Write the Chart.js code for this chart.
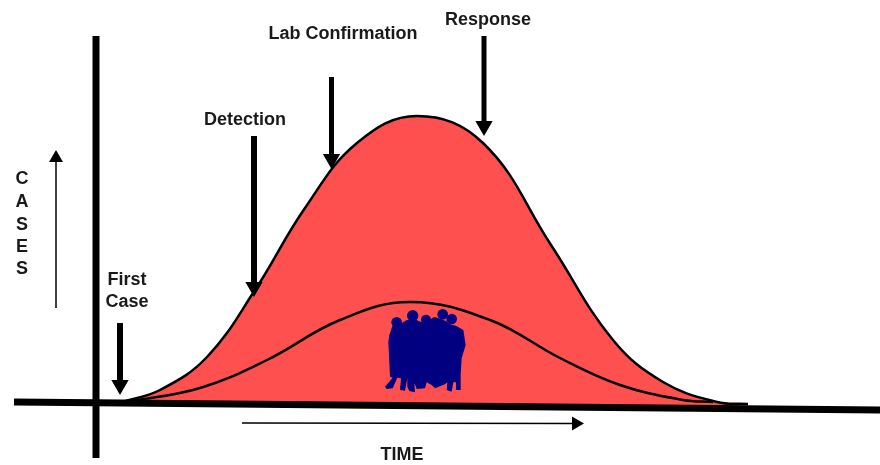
<!DOCTYPE html>
<html>
<head>
<meta charset="utf-8">
<title>Outbreak curve</title>
<script src="https://cdn.jsdelivr.net/npm/chart.js@4"></script>
<style>
  html, body { margin: 0; padding: 0; background: #fff; overflow: hidden; }
  canvas { display: block; }
</style>
</head>
<body>
<canvas id="chart" width="880" height="465"></canvas>
<script>
// curve values (x = time, y = cases above the left end of the baseline)
const totalTime = [122, 160, 207, 255, 305, 357, 417, 483, 551, 613, 663, 717, 748];
const totalCases = [3, 15, 48, 115, 197, 262, 289, 262, 160, 65, 23, 3, 1];
const reportedTime = [127, 200, 267, 340, 410, 490, 560, 620, 683, 713];
const reportedCases = [3, 17, 45, 85, 103, 85, 47, 20, 5, 3];
const baselineTime = [14, 880];
const baselineCases = [3, -5];
const axisTime = [96, 96];
const axisCases = [369, -53];

// arrows: tail, then the middle of the head
const firstCaseArrow = { time: [120, 120], cases: [82, 20] };
const detectionArrow = { time: [254, 254], cases: [269, 118] };
const labArrow = { time: [331.5, 331.5], cases: [328, 246] };
const responseArrow = { time: [484, 484], cases: [369, 279] };
const casesArrow = { time: [56, 56], cases: [97, 247] };
const timeArrow = { time: [242, 576], cases: [-18, -18.5] };

const labels = [
  { text: 'Lab Confirmation', x: 343, y: 39 },
  { text: 'Response', x: 488, y: 25 },
  { text: 'Detection', x: 245, y: 125 },
  { text: 'First', x: 127, y: 285 },
  { text: 'Case', x: 127, y: 307 },
  { text: 'C', x: 22, y: 184 },
  { text: 'A', x: 22, y: 207 },
  { text: 'S', x: 22, y: 230 },
  { text: 'E', x: 22, y: 252 },
  { text: 'S', x: 22, y: 274 },
  { text: 'TIME', x: 402, y: 460 }
];

// group of people, traced at 3x from (370, 295)
const peopleBody = [[70,85],[58,120],[55,140],[60,245],[68,248],[45,275],[50,282],[68,280],[82,248],[93,250],[90,285],[105,287],[112,250],[112,275],[118,288],[135,292],[133,265],[138,275],[140,282],[165,280],[170,262],[185,270],[195,280],[225,268],[232,262],[230,285],[245,290],[250,262],[258,262],[258,285],[272,285],[272,240],[275,190],[287,150],[280,105],[258,92],[240,88],[228,78],[205,70],[190,85],[170,80],[150,80],[140,75],[110,75],[95,85]];
const peopleHeads = [[80,82,16],[128,62,17],[168,74,15],[195,82,15],[218,58,16],[245,72,16]];

function pts(xs, ys) {
  return xs.map((x, i) => ({ x: x, y: ys[i] }));
}

function line(xs, ys, width, extra) {
  return Object.assign({
    data: pts(xs, ys),
    borderColor: '#000',
    borderWidth: width,
    borderCapStyle: 'butt',
    pointRadius: 0,
    fill: false
  }, extra);
}

function arrow(a, width, head, rotation) {
  return line(a.time, a.cases, width, {
    pointRadius: [0, head],
    pointRotation: rotation,
    pointStyle: 'triangle',
    pointBackgroundColor: '#000',
    pointBorderWidth: 0
  });
}

const overlay = {
  id: 'overlay',
  afterDatasetsDraw(chart) {
    const c = chart.ctx, sx = chart.scales.x, sy = chart.scales.y;
    const px = v => sx.getPixelForValue(370 + v / 3);
    const py = v => sy.getPixelForValue(405 - (295 + v / 3));
    c.save();
    c.fillStyle = '#000080';
    c.beginPath();
    peopleBody.forEach((p, i) => i ? c.lineTo(px(p[0]), py(p[1])) : c.moveTo(px(p[0]), py(p[1])));
    c.closePath();
    c.fill();
    peopleHeads.forEach(h => {
      c.beginPath();
      c.arc(px(h[0]), py(h[1]), h[2] / 3, 0, Math.PI * 2);
      c.fill();
    });
    c.fillStyle = '#1a1a1a';
    c.font = 'bold 18px "Liberation Sans", Arial, sans-serif';
    c.textAlign = 'center';
    labels.forEach(l => c.fillText(l.text, sx.getPixelForValue(l.x), sy.getPixelForValue(405 - l.y)));
    c.restore();
  }
};

new Chart(document.getElementById('chart'), {
  type: 'line',
  data: {
    datasets: [
      line(baselineTime, baselineCases, 7),
      line(axisTime, axisCases, 7),
      arrow(firstCaseArrow, 6, 10, 180),
      arrow(detectionArrow, 6, 10, 180),
      arrow(labArrow, 5, 10, 180),
      arrow(responseArrow, 5, 10, 180),
      arrow(casesArrow, 1.5, 8, 0),
      arrow(timeArrow, 1.5, 8, 90),
      line(reportedTime, reportedCases, 2.5, { tension: 0.4 }),
      line(totalTime, totalCases, 2.5, {
        tension: 0.4,
        backgroundColor: '#FF5050',
        fill: { target: 0 }
      })
    ]
  },
  options: {
    responsive: false,
    animation: false,
    layout: { padding: 0, autoPadding: false },
    scales: {
      x: { type: 'linear', min: 0, max: 880, display: false },
      y: { type: 'linear', min: -60, max: 405, display: false }
    },
    plugins: { legend: { display: false }, tooltip: { enabled: false } }
  },
  plugins: [overlay]
});
</script>
</body>
</html>
